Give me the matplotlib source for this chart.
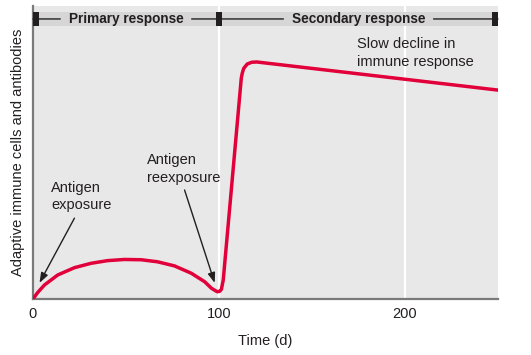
import matplotlib.pyplot as plt
from matplotlib.patches import Rectangle

plt.rcParams["font.family"] = ["Liberation Sans", "DejaVu Sans"]

# Immune response curve (time in days, response in % of plot height)
time_days = [0, 2.5, 6.2, 13.3, 22.3, 31.3, 40.1, 49.2, 58.2, 67.0, 76.1, 85.1,
             92.3, 95.9, 99.0, 100.3, 101.3, 102.3, 112.0, 112.5,
             113.3, 115.2, 117.6, 120.3, 250]
response = [0, 2.2, 4.8, 8.2, 10.7, 12.2, 13.1, 13.5, 13.4, 12.7, 11.3, 8.8,
            5.9, 3.7, 2.5, 2.6, 3.3, 6.5, 75.4, 77.0,
            78.7, 80.2, 80.8, 80.9, 71.3]

# Phases shown in the header band
phase_start = [0, 100]
phase_end = [100, 250]
phase_labels = ["Primary response", "Secondary response"]

x_ticks = [0, 100, 200]

RED = "#e2003a"
INK = "#231f20"
BG = "#e8e8e8"
BAND = "#d6d6d6"

fig = plt.figure(figsize=(5.31, 3.55), dpi=100)
ax = fig.add_axes([0.0621, 0.1577, 0.8757, 0.8254])
ax.set_facecolor(BG)
ax.set_xlim(0, 250)
ax.set_ylim(0, 100)

ax.set_xticks(x_ticks)
ax.set_yticks([])
ax.tick_params(axis="x", length=0, pad=6, labelsize=10.5, labelcolor=INK)
ax.grid(axis="x", color="white", lw=1.6)
ax.set_axisbelow(True)
for side in ["top", "right"]:
    ax.spines[side].set_visible(False)
for side in ["left", "bottom"]:
    ax.spines[side].set_color("#7a7a7a")
    ax.spines[side].set_linewidth(1.6)

ax.set_xlabel("Time (d)", fontsize=10.5, color=INK, labelpad=9)
ax.set_ylabel("Adaptive immune cells and antibodies", fontsize=10.5,
              color=INK, labelpad=6)

# header band
band_lo, band_hi = 93.2, 97.95
band_mid = (band_lo + band_hi) / 2
ax.axhspan(band_lo, band_hi, color=BAND, lw=0, zorder=1)
mark_w = 3
marks = [0] + phase_end
for i, m in enumerate(marks):
    if i == 0:
        x0 = m
    elif i == len(marks) - 1:
        x0 = m - mark_w
    else:
        x0 = m - mark_w / 2
    ax.add_patch(Rectangle((x0, band_lo), mark_w, band_hi - band_lo,
                           color=INK, lw=0, zorder=3))
for s, e, lab in zip(phase_start, phase_end, phase_labels):
    mid = (s + e) / 2
    for target, col in [(s, INK), (e, "none")]:
        ax.annotate(lab, xy=(target, band_mid), xytext=(mid, band_mid),
                    ha="center", va="center", fontsize=9.8,
                    fontweight="bold", color=col, zorder=4,
                    arrowprops=dict(arrowstyle="-", color=INK, lw=1,
                                    shrinkA=4, shrinkB=0))

ax.plot(time_days, response, color=RED, lw=2.5, solid_joinstyle="round",
        solid_capstyle="round", zorder=5)

arrow = dict(arrowstyle="-|>,head_length=0.6,head_width=0.22", color=INK,
             lw=1, shrinkA=0, shrinkB=0)
ax.annotate("", xy=(3.5, 5.5), xytext=(22.3, 27.6), arrowprops=arrow)
ax.annotate("", xy=(97.7, 5.5), xytext=(81.5, 37.2), arrowprops=arrow)

txt = dict(fontsize=10.5, color=INK, ha="left", va="top", linespacing=1.32)
ax.text(9.9, 40.3, "Antigen\nexposure", **txt)
ax.text(61.1, 49.8, "Antigen\nreexposure", **txt)
ax.text(174.2, 89.4, "Slow decline in\nimmune response", **txt)

fig.savefig("out.png", dpi=100)
